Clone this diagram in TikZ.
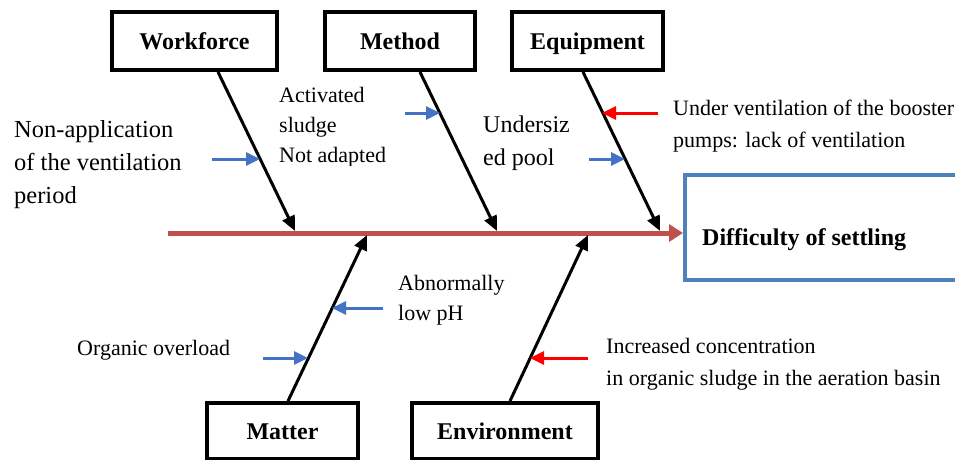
\documentclass[tikz,border=0pt]{standalone}
\usepackage{fontspec}
\setmainfont{LiberationSerif}[Extension=.ttf, UprightFont=*-Regular, BoldFont=*-Bold, ItalicFont=*-Italic, BoldItalicFont=*-BoldItalic]
\usetikzlibrary{arrows.meta,calc}
\definecolor{spinered}{HTML}{C0504D}
\definecolor{causeblue}{HTML}{4472C4}
\definecolor{effectblue}{HTML}{4F81BD}
\definecolor{causered}{HTML}{FF0000}
\tikzset{
  catbox/.style={draw=black, line width=4pt, fill=white, inner sep=0pt,
    font=\fontsize{24}{28}\selectfont\bfseries, text height=16pt, text depth=0pt},
  note/.style={font=\fontsize{22}{30}\selectfont, align=left, anchor=north west, inner sep=0pt},
  bone/.style={draw=black, line width=3pt, -{Triangle[length=15pt,width=13pt]}},
  spinearrow/.style={draw=spinered, line width=5pt, -{Triangle[length=14pt,width=17pt]}},
  bluecause/.style={draw=causeblue, line width=3pt, -{Triangle[length=14pt,width=13pt]}},
  redcause/.style={draw=causered, line width=3pt, -{Triangle[length=14pt,width=13pt]}},
}
\begin{document}
\begin{tikzpicture}[x=1pt,y=-1pt]
\useasboundingbox (0,0) rectangle (955,460);

% effect box (runs off the right edge)
\node (effect) [draw=effectblue, line width=4pt, minimum width=320pt, minimum height=105pt,
  inner sep=0pt] at (845,227.5) {};
\node (effecttext) [anchor=base west, inner sep=0pt, font=\fontsize{24}{28}\selectfont\bfseries]
  at (702,245) {Difficulty of settling};

% spine
\coordinate (tail) at (168,233);
\draw[spinearrow] (tail) -- (tail -| effect.west);

% category boxes
\node (wf) [catbox, minimum width=165pt, minimum height=58pt] at (194.5,41) {Workforce};
\node (me) [catbox, minimum width=150pt, minimum height=58pt] at (400,41) {Method};
\node (eq) [catbox, minimum width=151pt, minimum height=58pt] at (587.5,41) {Equipment};
\node (ma) [catbox, minimum width=151pt, minimum height=56pt] at (282.5,431) {Matter};
\node (en) [catbox, minimum width=186pt, minimum height=56pt] at (505,431) {Environment};

% bone ends on the spine
\coordinate (wfEnd) at (295,231);
\coordinate (meEnd) at (497,231);
\coordinate (eqEnd) at (660,231);
\coordinate (maEnd) at (367,235);
\coordinate (enEnd) at (588,235);

% bones
\draw[bone] ($(wf.south)+(23.5,0)$) -- (wfEnd);
\draw[bone] ($(me.south)+(20,0)$) -- (meEnd);
\draw[bone] ($(eq.south)+(-4.5,0)$) -- (eqEnd);
\draw[bone] ($(ma.north)+(5.5,0)$) -- (maEnd);
\draw[bone] ($(en.north)+(5,0)$) -- (enEnd);

% cause arrows
\coordinate (c1a) at (212,159); \coordinate (c1b) at (260,159);
\coordinate (c2a) at (405,113); \coordinate (c2b) at (440,113);
\coordinate (c3a) at (658,113); \coordinate (c3b) at (602,113);
\coordinate (c4a) at (589,159); \coordinate (c4b) at (625,159);
\coordinate (c5a) at (263,358); \coordinate (c5b) at (308,358);
\coordinate (c6a) at (383,308); \coordinate (c6b) at (332,308);
\coordinate (c7a) at (588,358); \coordinate (c7b) at (530,358);
\draw[bluecause] (c1a) -- (c1b);
\draw[bluecause] (c2a) -- (c2b);
\draw[redcause]  (c3a) -- (c3b);
\draw[bluecause] (c4a) -- (c4b);
\draw[bluecause] (c5a) -- (c5b);
\draw[bluecause] (c6a) -- (c6b);
\draw[redcause]  (c7a) -- (c7b);

% cause texts
\node (t1) [note, font=\fontsize{24.5}{33}\selectfont] at (14,120)
  {Non-application\\of the ventilation\\period};
\begin{scope}
  \clip (270,80) rectangle (420,165);
  \node (t2) [note] at (279,87) {Activated\\sludge\\Not adapted};
\end{scope}
\node (t3) [note, font=\fontsize{24}{33}\selectfont] at (483,116) {Undersiz\\ed pool};
\node (t4) [note, font=\fontsize{22}{32}\selectfont] at (673,100)
  {Under ventilation of the booster\\pumps: lack of ventilation};
\node (t5) [note] at (398,275) {Abnormally\\low pH};
\node (t6) [note] at (77,340) {Organic overload};
\node (t7) [note, font=\fontsize{22}{32}\selectfont] at (606,338)
  {Increased concentration\\in organic sludge in the aeration basin};
\end{tikzpicture}
\end{document}
